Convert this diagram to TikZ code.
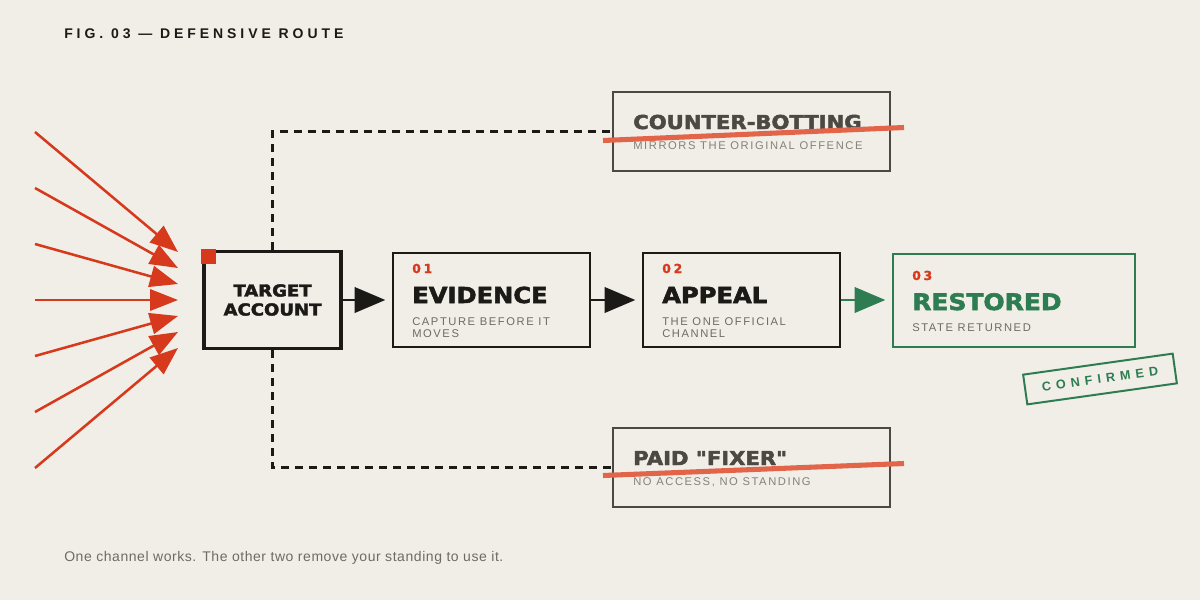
\documentclass[tikz,border=0pt]{standalone}
\usepackage{fontspec}
\setmainfont{Liberation Sans}
\newfontfamily\heavyfont{DejaVu Sans}[FakeStretch=1.1, FakeBold=2.5]
\newfontfamily\numfont{DejaVu Sans}[LetterSpace=22, FakeBold=1.5]
\newfontfamily\trackfont{Liberation Sans}[LetterSpace=14]
\newfontfamily\widetrackfont{Liberation Sans}[LetterSpace=28]
\newfontfamily\stampfont{Liberation Sans}[LetterSpace=40]
\newfontfamily\captionfont{Liberation Sans}[LetterSpace=4]
\usetikzlibrary{arrows.meta,positioning}

\definecolor{paper}{RGB}{241,238,232}
\definecolor{ink}{RGB}{28,26,23}
\definecolor{alarm}{RGB}{214,57,27}
\definecolor{strike}{RGB}{226,101,74}
\definecolor{slate}{RGB}{76,73,68}
\definecolor{muted}{RGB}{110,106,100}
\definecolor{faded}{RGB}{132,128,122}
\definecolor{moss}{RGB}{46,125,82}

\tikzset{pxsize/.style 2 args={minimum width=#1*0.75pt, minimum height=#2*0.75pt}}

\begin{document}
\begin{tikzpicture}[x=0.75pt, y=-0.75pt]
			\tikzstyle{box}=[draw, rectangle, inner sep=0pt, fill=paper]
			\tikzstyle{hit}=[draw, alarm, line width=1.9pt, -{Triangle[length=21pt, width=16pt]}]
			\tikzstyle{flow}=[draw, ink, line width=2pt, shorten >=5pt, -{Triangle[length=23pt, width=19pt]}]
			\tikzstyle{detour}=[draw, ink, line width=1.9pt, dash pattern=on 6pt off 4.5pt]
			\tikzstyle{numlabel}=[anchor=base west, inner sep=0pt, text=alarm, font=\numfont\bfseries\fontsize{9.3}{10}\selectfont]
			\tikzstyle{stepname}=[anchor=base west, inner sep=0pt, text=ink, font=\heavyfont\bfseries\fontsize{16.5}{18}\selectfont]
			\tikzstyle{stepnote}=[anchor=base west, inner sep=0pt, align=left, text=muted, font=\trackfont\fontsize{8.4}{9}\selectfont]
			\tikzstyle{deadname}=[stepname, text=slate, font=\heavyfont\bfseries\fontsize{14.4}{16}\selectfont]
			\tikzstyle{deadnote}=[stepnote, text=faded]
			\tikzstyle{cross}=[draw, strike, line width=3.8pt]
			\newcommand\Ymid{300}
			\newcommand\Yup{131.5}
			\newcommand\Ydown{467.5}
			\newcommand\Xfan{35}
			\newcommand\Xtip{178}

			% Background
			\fill [paper] (0,0) rectangle (1200,600);
			\useasboundingbox (0,0) rectangle (1200,600);

			\node [anchor=base west, inner sep=0pt, text=ink, font=\widetrackfont\bfseries\fontsize{10.5}{12}\selectfont] (title) at (64,38) {FIG. 03 — DEFENSIVE ROUTE};

			 % Target
			\node [box, pxsize={137}{97}, line width=2.6pt, draw=ink, align=center, text=ink, font=\heavyfont\bfseries\fontsize{12.3}{14.25}\selectfont] (target) at (272.5,\Ymid) {TARGET\\ACCOUNT};
			\node [fill=alarm, inner sep=0pt, minimum size=11.5pt, anchor=north west] (corner) at ([shift={(-1.5,-1.5)}]target.north west) {};

			 % Dead ends
			\node [box, pxsize={277}{79}, line width=1.5pt, draw=slate] (counter) at (751.5,\Yup) {};
			\node [box, pxsize={277}{79}, line width=1.5pt, draw=slate] (fixer) at (751.5,\Ydown) {};
			\path [detour] (target.north) |- (counter.west);
			\path [detour] (target.south) |- (fixer.west);

			\node [deadname] (countername) at (633,129) {COUNTER-BOTTING};
			\node [deadnote] (counternote) at (633,149) {MIRRORS THE ORIGINAL OFFENCE};
			\node [deadname] (fixername) at (633,465) {PAID "FIXER"};
			\node [deadnote] (fixernote) at (633,485) {NO ACCESS, NO STANDING};

			\coordinate (c1) at ([shift={(-9,9)}]counter.west);
			\coordinate (c2) at ([shift={(13,-4)}]counter.east);
			\coordinate (f1) at ([shift={(-9,8)}]fixer.west);
			\coordinate (f2) at ([shift={(13,-4)}]fixer.east);
			\path [cross] (c1) -- (c2);
			\path [cross] (f1) -- (f2);

			 % Steps
			\node [box, pxsize={197}{94}, line width=1.5pt, draw=ink] (evidence) at (491.5,\Ymid) {};
			\node [box, pxsize={197}{94}, line width=1.5pt, draw=ink] (appeal) at (741.5,\Ymid) {};
			\node [box, pxsize={242}{93}, line width=1.5pt, draw=moss] (restored) at (1014,\Ymid) {};

			\node [numlabel] (evidencenum) at (412,273) {01};
			\node [stepname] (evidencename) at (412,303) {EVIDENCE};
			\node [stepnote] (evidencenote) at (412,337) {CAPTURE BEFORE IT\\MOVES};

			\node [numlabel] (appealnum) at (662,273) {02};
			\node [stepname] (appealname) at (662,303) {APPEAL};
			\node [stepnote] (appealnote) at (662,337) {THE ONE OFFICIAL\\CHANNEL};

			\node [numlabel] (restorednum) at (912,280) {03};
			\node [stepname, text=moss, font=\heavyfont\bfseries\fontsize{17}{18}\selectfont] (restoredname) at (912,310) {RESTORED};
			\node [stepnote] (restorednote) at (912,331) {STATE RETURNED};

			\node [draw=moss, line width=1.5pt, rotate=8, pxsize={151}{30}, text=moss, font=\stampfont\bfseries\fontsize{9.5}{10}\selectfont] (stamp) at (1100,379) {CONFIRMED};

			 % Path Arrows
			\path [flow] (target.east) -- (evidence.west);
			\path [flow] (evidence.east) -- (appeal.west);
			\path [flow, moss] (appeal.east) -- (restored.west);

			 % Incoming
			\coordinate (s1) at (\Xfan,132);
			\coordinate (s2) at (\Xfan,188);
			\coordinate (s3) at (\Xfan,244);
			\coordinate (s4) at (\Xfan,300);
			\coordinate (s5) at (\Xfan,356);
			\coordinate (s6) at (\Xfan,412);
			\coordinate (s7) at (\Xfan,468);
			\coordinate (h1) at (\Xtip,252);
			\coordinate (h2) at (\Xtip,268);
			\coordinate (h3) at (\Xtip,284);
			\coordinate (h4) at (\Xtip,300);
			\coordinate (h5) at (\Xtip,316);
			\coordinate (h6) at (\Xtip,332);
			\coordinate (h7) at (\Xtip,348);
			\path [hit] (s1) -- (h1);
			\path [hit] (s2) -- (h2);
			\path [hit] (s3) -- (h3);
			\path [hit] (s4) -- (h4);
			\path [hit] (s5) -- (h5);
			\path [hit] (s6) -- (h6);
			\path [hit] (s7) -- (h7);

			\node [anchor=base west, inner sep=0pt, text=muted, font=\captionfont\fontsize{10.5}{12}\selectfont] (caption) at (64,561) {One channel works. The other two remove your standing to use it.};
		\end{tikzpicture}
\end{document}
